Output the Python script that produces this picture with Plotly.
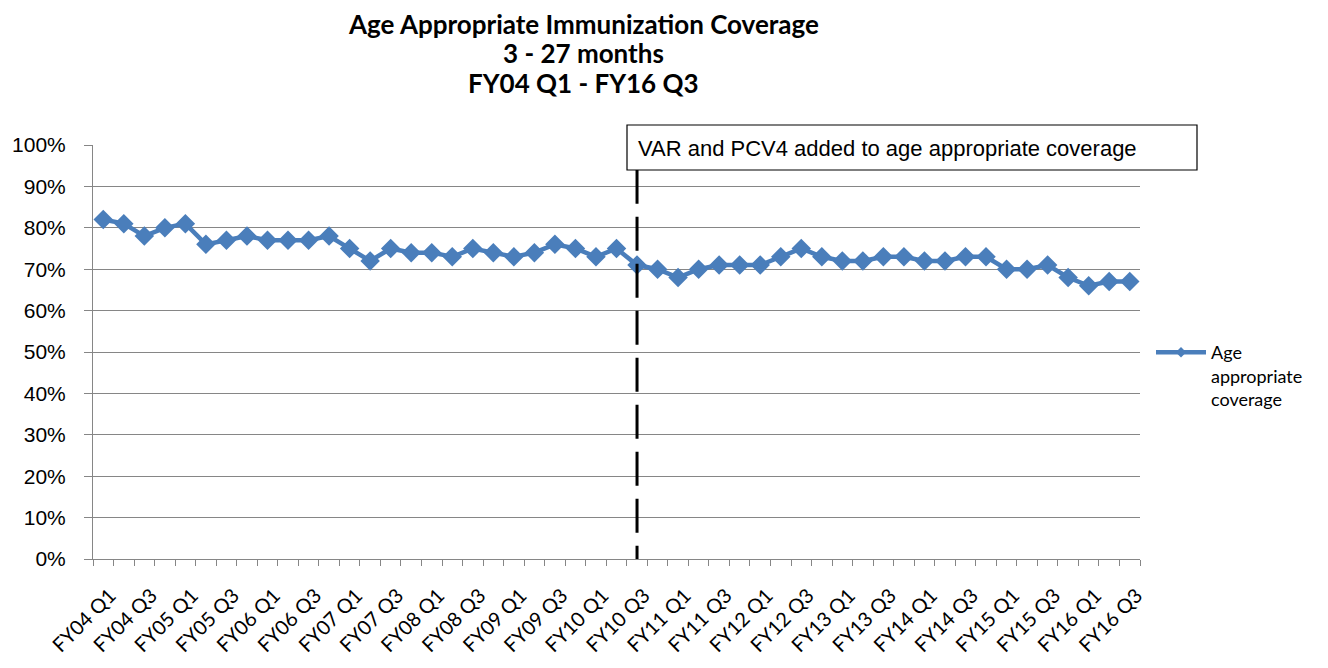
import plotly.graph_objects as go

# ---- data ----
categories = []
for fy in range(4, 17):
    for q in range(1, 5):
        if fy == 16 and q > 3:
            break
        categories.append(f"FY{fy:02d} Q{q}")

coverage = [82, 81, 78, 80, 81, 76, 77, 78, 77, 77, 77, 78, 75, 72, 75, 74, 74, 73, 75, 74,
            73, 74, 76, 75, 73, 75, 71, 70, 68, 70, 71, 71, 71, 73, 75, 73, 72, 72, 73, 73,
            72, 72, 73, 73, 70, 70, 71, 68, 66, 67, 67]
coverage = [v / 100 for v in coverage]

series_name = "Age appropriate coverage"
event_category = "FY10 Q3"
event_text = "VAR and PCV4 added to age appropriate coverage"
title_lines = ["Age Appropriate Immunization Coverage", "3 - 27 months", "FY04 Q1 - FY16 Q3"]
y_ticks = [i / 10 for i in range(11)]

# ---- figure ----
idx = list(range(len(categories)))
blue = "#4A7EBB"
grid = "#868686"

OFF = 8                                # page offset of the figure div
PL, PR, PT, PB = 93, 1140, 145, 559    # plot area in window pixels
PW, PH = PR - PL, PB - PT


def px(xabs):
    return (xabs - PL) / PW


def py(yabs):
    return (PB - yabs) / PH


fig = go.Figure()
fig.add_trace(go.Scatter(
    x=idx, y=coverage, mode="lines+markers",
    line=dict(color=blue, width=4.5),
    marker=dict(symbol="diamond", size=15, color=blue),
    showlegend=False, name=series_name,
))
fig.add_trace(go.Scatter(
    x=[None], y=[None], mode="lines+markers",
    line=dict(color=blue, width=4.5),
    marker=dict(symbol="diamond", size=8, color=blue),
    name="Age<br>appropriate<br>coverage", showlegend=True,
))

ev = categories.index(event_category)
fig.add_shape(type="line", xref="x", yref="y", x0=ev, x1=ev, y0=0.94, y1=0,
              line=dict(color="black", width=3, dash="34px,13px"), layer="above")

fig.add_shape(type="rect", xref="paper", yref="paper",
              x0=px(627), x1=px(1197), y0=py(170), y1=py(125),
              line=dict(color="black", width=1.2), fillcolor="white", layer="above")
fig.add_annotation(xref="paper", yref="paper", x=px(636), y=py(148),
                   xanchor="left", yanchor="middle", showarrow=False, text=event_text,
                   font=dict(family="Liberation Sans, Arial", size=22, color="black"))

for t, yc in zip(title_lines, [24, 53, 83]):
    fig.add_annotation(xref="paper", yref="paper", x=px(583), y=py(yc),
                       xanchor="center", yanchor="middle", showarrow=False,
                       text=f"<b>{t}</b>",
                       font=dict(family="Lato", size=26, color="black"))

fig.update_layout(
    width=1328 - 2 * OFF, height=668 - 2 * OFF, autosize=False,
    margin=dict(l=PL - OFF, r=1328 - 2 * OFF - (PR - OFF), t=PT - OFF,
                b=668 - 2 * OFF - (PB - OFF), autoexpand=False),
    paper_bgcolor="white", plot_bgcolor="white",
    legend=dict(x=px(1151), y=py(334), xanchor="left", yanchor="top",
                valign="top", font=dict(family="Lato", size=18, color="black"),
                bgcolor="rgba(0,0,0,0)", itemwidth=50),
    xaxis=dict(range=[-0.5, len(categories) - 0.5], automargin=False,
               tickvals=idx[::2], ticktext=categories[::2], tickangle=-45,
               ticks="", showgrid=False, showline=True, linecolor=grid, linewidth=1,
               ticklabelstandoff=16, ticklabelshift=7,
               tickfont=dict(family="Lato", size=20, color="black"),
               minor=dict(ticks="outside", tick0=-0.5, dtick=1, ticklen=6,
                          tickcolor=grid, showgrid=False),
               zeroline=False),
    yaxis=dict(range=[0, 1], tickvals=y_ticks, tickformat=".0%", automargin=False,
               showgrid=True, gridcolor=grid, gridwidth=1,
               showline=True, linecolor=grid, linewidth=1,
               ticks="outside", ticklen=8, tickcolor=grid, ticklabelstandoff=14,
               tickfont=dict(family="Liberation Sans, Arial", size=21, color="black"),
               zeroline=False),
)

fig.write_html("out.html")
